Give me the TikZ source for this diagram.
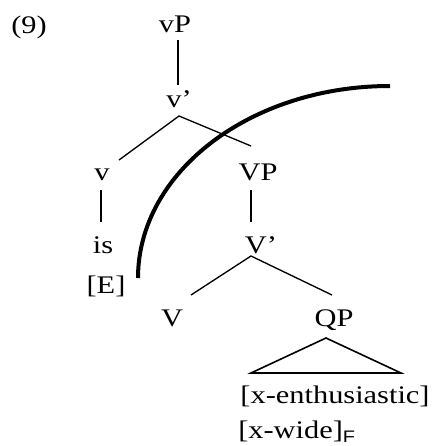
\documentclass[tikz,border=0pt]{standalone}
\usepackage{fontspec}
\setmainfont{Liberation Serif}[FakeStretch=1.2]
\newfontfamily\subfont{Liberation Sans}[FakeStretch=1.2]
\usetikzlibrary{calc}
\tikzset{
  cat/.style={inner sep=0pt, anchor=base, font=\fontsize{19pt}{22pt}\selectfont},
  branch/.style={line width=1pt},
}
\begin{document}
\begin{tikzpicture}[x=0.75pt,y=-0.75pt]
    \useasboundingbox (0,0) rectangle (438,446);

    % Noeuds
    \node[cat] (ex) at (29,33) {(9)};
    \node[cat] (vP) at (175,32) {vP};
    \node[cat] (vbar) at (179,107) {v’};
    \node[cat] (v) at (102,180) {v};
    \node[cat] (VP) at (258,180) {VP};
    \node[cat] (is) at (103,253) {is};
    \node[cat] (E) at (106,293) {[E]};
    \node[cat] (Vbar) at (261,253) {V’};
    \node[cat] (V) at (172,326) {V};
    \node[cat] (QP) at (334,326) {QP};
    \node[cat] (enth) at (335,403) {[x-enthusiastic]};
    \node[cat, anchor=base west] (wide) at (238,438) {[x-wide]\raisebox{-3pt}{\subfont\fontsize{12.5pt}{14pt}\selectfont F}};

    % Branches
    \draw[branch] ($(vP.base)+(3,8)$) -- ($(vbar.base)+(-1,-22)$);
    \draw[branch] ($(v.base)+(17,-20)$) -- ($(vbar.base)+(0,9)$) -- ($(VP.base)+(-7,-34)$);
    \draw[branch] ($(v.base)+(-1,10)$) -- ($(is.base)+(-2,-31)$);
    \draw[branch] ($(VP.base)+(-7,10)$) -- ($(Vbar.base)+(-10,-31)$);
    \draw[branch] ($(V.base)+(19,-31)$) -- ($(Vbar.base)+(-10,3)$) -- ($(QP.base)+(-2,-31)$);

    % Triangle
    \draw[line width=1.2pt] ($(QP.base)+(-8,12)$) -- ($(enth.base)+(-84,-30)$) -- ($(enth.base)+(66,-30)$) -- cycle;

    % Arc
    \draw[line width=3pt] (138,278) arc[start angle=180, end angle=270, x radius=252, y radius=192];

\end{tikzpicture}
\end{document}
